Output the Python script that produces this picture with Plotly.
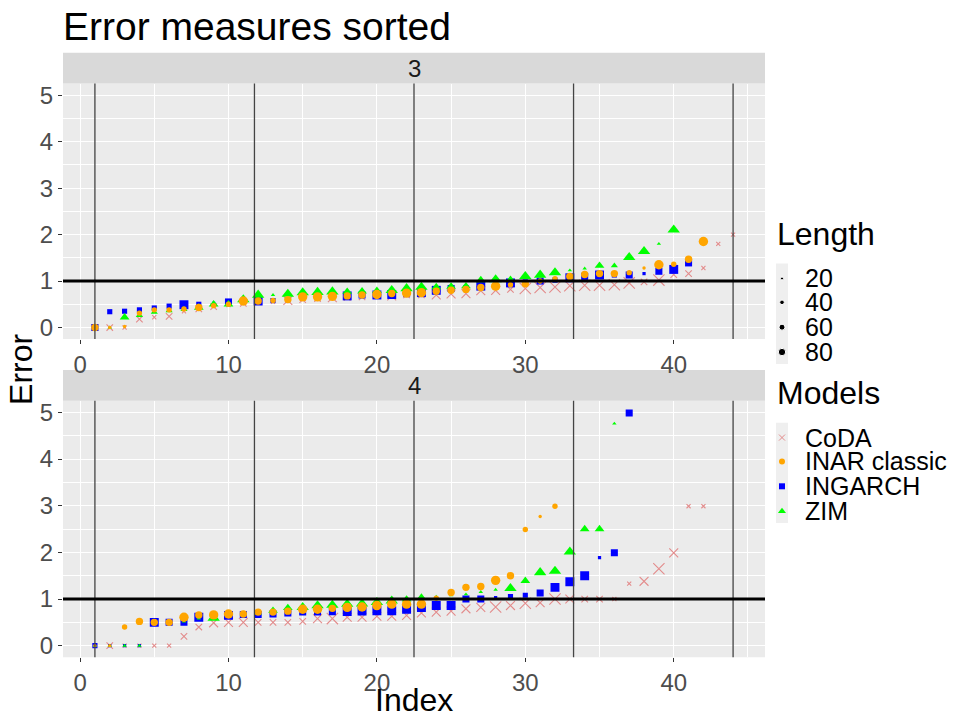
import plotly.graph_objects as go

# ---------------- data ----------------
models = ["CoDA", "INAR classic", "INGARCH", "ZIM"]
length_levels = [20, 40, 60, 80]

# facet "3"
f3_coda = [0, 0, 0, 0.18, 0.22, 0.24, 0.35, 0.40, 0.45, 0.48,
           0.52, 0.55, 0.55, 0.58, 0.60, 0.62, 0.64, 0.65, 0.66, 0.67,
           0.68, 0.70, 0.70, 0.70, 0.72, 0.73, 0.79, 0.80, 0.82, 0.84,
           0.86, 0.87, 0.90, 0.91, 0.91, 0.92, 0.96, 0.98, 1.02, 1.14,
           1.16, 1.28, 1.80, 2.00]
f3_coda_len = [40, 40, 20, 40, 20, 40, 20, 40, 40, 20,
               40, 40, 20, 60, 40, 40, 60, 40, 40, 20,
               60, 40, 40, 60, 60, 60, 60, 60, 40, 80,
               80, 80, 80, 80, 80, 80, 80, 40, 80, 40,
               40, 20, 20, 20]
f3_inar = [0, 0, 0.02, 0.31, 0.38, 0.38, 0.40, 0.43, 0.47, 0.50,
           0.57, 0.57, 0.58, 0.60, 0.66, 0.66, 0.67, 0.68, 0.70, 0.71,
           0.73, 0.74, 0.75, 0.78, 0.80, 0.82, 0.86, 0.89, 0.92, 0.94,
           1.00, 1.05, 1.10, 1.14, 1.16, 1.16, 1.18, 1.28, 1.35, 1.36,
           1.47, 1.85]
f3_inar_len = [60, 20, 20, 40, 40, 40, 40, 60, 40, 40,
               80, 60, 40, 60, 80, 80, 80, 60, 60, 80,
               60, 80, 80, 60, 60, 60, 60, 80, 40, 60,
               40, 40, 60, 60, 60, 60, 40, 20, 80, 40,
               60, 80]
f3_ingarch = [0, 0.34, 0.35, 0.38, 0.42, 0.46, 0.49, 0.50, 0.52, 0.55,
              0.56, 0.57, 0.58, 0.60, 0.63, 0.66, 0.67, 0.68, 0.70, 0.70,
              0.71, 0.73, 0.75, 0.80, 0.84, 0.86, 0.89, 0.92, 0.96, 0.98,
              1.00, 1.02, 1.07, 1.10, 1.13, 1.13, 1.13, 1.16, 1.21, 1.25,
              1.39]
f3_ingarch_len = [60, 40, 40, 40, 40, 40, 80, 40, 20, 60,
                  40, 80, 40, 40, 40, 40, 40, 80, 60, 80,
                  80, 60, 80, 80, 60, 40, 80, 40, 80, 40,
                  60, 40, 80, 60, 80, 40, 60, 20, 60, 80,
                  60]
f3_zim = [0, 0, 0.22, 0.26, 0.33, 0.36, 0.39, 0.43, 0.50, 0.50,
          0.60, 0.70, 0.70, 0.72, 0.75, 0.76, 0.77, 0.77, 0.78, 0.79,
          0.80, 0.84, 0.87, 0.87, 0.88, 0.89, 1.02, 1.03, 1.05, 1.10,
          1.13, 1.18, 1.23, 1.27, 1.33, 1.33, 1.51, 1.64, 1.80, 2.10]
f3_zim_len = [20, 20, 60, 40, 40, 40, 40, 60, 60, 60,
              80, 80, 20, 80, 80, 80, 80, 60, 60, 60,
              80, 80, 80, 60, 60, 60, 60, 80, 40, 80,
              80, 80, 20, 20, 60, 40, 80, 80, 20, 80]

# facet "4"
f4_coda = [0, 0, 0, 0, 0, 0, 0.20, 0.40, 0.49, 0.50,
           0.50, 0.50, 0.50, 0.50, 0.52, 0.58, 0.58, 0.61, 0.61, 0.63,
           0.63, 0.65, 0.70, 0.72, 0.74, 0.79, 0.82, 0.83, 0.86, 0.91,
           0.92, 1.00, 1.00, 1.00, 1.00, 1.00, 1.33, 1.38, 1.65, 1.99,
           2.99, 2.99]
f4_coda_len = [20, 40, 20, 20, 20, 20, 40, 40, 60, 60,
               60, 40, 40, 40, 40, 60, 80, 60, 60, 60,
               60, 60, 60, 60, 60, 60, 60, 80, 60, 80,
               60, 80, 60, 40, 40, 20, 20, 60, 80, 60,
               20, 20]
f4_inar = [0, 0, 0.40, 0.52, 0.50, 0.50, 0.61, 0.66, 0.66, 0.68,
           0.68, 0.72, 0.72, 0.74, 0.78, 0.78, 0.80, 0.82, 0.83, 0.86,
           0.89, 0.89, 0.89, 1.02, 1.14, 1.25, 1.27, 1.40, 1.50, 2.49,
           2.77, 2.99]
f4_inar_len = [20, 20, 40, 60, 60, 60, 80, 60, 80, 80,
               60, 60, 60, 60, 80, 80, 60, 80, 80, 80,
               80, 80, 80, 40, 60, 60, 60, 80, 60, 40,
               20, 40]
f4_ingarch = [0, 0, 0, 0, 0.50, 0.50, 0.50, 0.61, 0.63, 0.65,
              0.67, 0.67, 0.68, 0.70, 0.72, 0.72, 0.73, 0.73, 0.74, 0.75,
              0.75, 0.78, 0.82, 0.86, 0.86, 1.00, 1.00, 1.03, 1.05, 1.08,
              1.13, 1.25, 1.37, 1.50, 1.89, 1.99, 4.99]
f4_ingarch_len = [40, 20, 20, 20, 80, 60, 60, 80, 40, 80,
                  60, 60, 60, 60, 60, 60, 60, 80, 80, 80,
                  80, 80, 80, 80, 80, 60, 60, 20, 40, 40,
                  60, 80, 80, 80, 20, 60, 60]
f4_zim = [0, 0, 0, 0, 0.50, 0.50, 0.52, 0.58, 0.59, 0.65,
          0.68, 0.70, 0.75, 0.81, 0.82, 0.86, 0.87, 0.89, 0.90, 0.93,
          0.96, 0.99, 1.03, 1.05, 1.08, 1.10, 1.15, 1.20, 1.23, 1.39,
          1.57, 1.60, 2.01, 2.50, 2.50, 4.76]
f4_zim_len = [20, 20, 20, 20, 20, 20, 20, 20, 80, 40,
              40, 40, 60, 60, 80, 80, 80, 80, 80, 80,
              80, 60, 60, 20, 20, 20, 20, 20, 80, 60,
              80, 80, 80, 60, 60, 20]

facet_labels = ["3", "4"]
group_breaks = [1, 11.75, 22.5, 33.25, 44]
reference_error = 1
x_ticks = [0, 10, 20, 30, 40]
y_ticks = [0, 1, 2, 3, 4, 5]

# ---------------- styles ----------------
colors = {"CoDA": "#E38B8B", "INAR classic": "#FFA500",
          "INGARCH": "#0000FF", "ZIM": "#00FF00"}
symbols = {"CoDA": "x-thin", "INAR classic": "circle",
           "INGARCH": "square", "ZIM": "triangle-up"}
size_px = {20: 3.4, 40: 5.4, 60: 7.4, 80: 9.4}
sym_scale = {"CoDA": 1.2, "INAR classic": 1.0, "INGARCH": 0.95, "ZIM": 1.15}

data = {
    "3": {"CoDA": (f3_coda, f3_coda_len), "INAR classic": (f3_inar, f3_inar_len),
          "INGARCH": (f3_ingarch, f3_ingarch_len), "ZIM": (f3_zim, f3_zim_len)},
    "4": {"CoDA": (f4_coda, f4_coda_len), "INAR classic": (f4_inar, f4_inar_len),
          "INGARCH": (f4_ingarch, f4_ingarch_len), "ZIM": (f4_zim, f4_zim_len)},
}

FONT = "Liberation Sans, Arial, sans-serif"
W, H = 959, 720
xdom = [63 / W, 765 / W]
ydoms = [[1 - 339 / H, 1 - 82 / H], [1 - 659 / H, 1 - 401 / H]]
strip_h = 31 / H

fig = go.Figure()
draw_order = ["CoDA", "INGARCH", "ZIM", "INAR classic"]
for k, fac in enumerate(facet_labels):
    xa = "x" if k == 0 else "x2"
    ya = "y" if k == 0 else "y2"
    for m in draw_order:
        vals, lens = data[fac][m]
        xs = list(range(1, len(vals) + 1))
        sizes = [size_px[l] * sym_scale[m] for l in lens]
        marker = dict(symbol=symbols[m], size=sizes, color=colors[m], opacity=1,
                      line=dict(width=0))
        if m == "CoDA":
            marker["line"] = dict(width=1.1, color=colors[m])
        fig.add_trace(go.Scatter(x=xs, y=vals, mode="markers", marker=marker,
                                 xaxis=xa, yaxis=ya, showlegend=False,
                                 hoverinfo="skip"))

# ---------------- legend (keys on a small overlay axis in pixel units) ----------------
LEG_X0, LEG_X1, LEG_Y0, LEG_Y1 = 770, 959, 200, 560   # pixel box of the legend area
key_x = 782
text_x = 803
len_title_y = 233
len_rows_y = [278, 302, 327, 352]
mod_title_y = 393
mod_rows_y = [438, 462, 487, 512]
legend_len_px = {20: 3.0, 40: 4.6, 60: 6.0, 80: 7.4}

fig.add_trace(go.Scatter(x=[key_x] * len(length_levels), y=len_rows_y, mode="markers",
                         marker=dict(symbol="circle", color="black", opacity=1,
                                     size=[legend_len_px[l] for l in length_levels]),
                         xaxis="x3", yaxis="y3", showlegend=False, hoverinfo="skip"))
for m, yy in zip(models, mod_rows_y):
    mk = dict(symbol=symbols[m], color=colors[m], size=6 if m != "ZIM" else 7, opacity=1,
              line=dict(width=0))
    if m == "CoDA":
        mk["line"] = dict(width=1, color=colors[m])
    fig.add_trace(go.Scatter(x=[key_x], y=[yy], mode="markers", marker=mk,
                             xaxis="x3", yaxis="y3", showlegend=False, hoverinfo="skip"))

shapes = []
annotations = []
# panel backgrounds
for k in range(2):
    xa = "x" if k == 0 else "x2"
    ya = "y" if k == 0 else "y2"
    shapes.append(dict(type="rect", xref=xa + " domain", yref=ya + " domain",
                       x0=0, x1=1, y0=0, y1=1, fillcolor="#EBEBEB",
                       line=dict(width=0), layer="below"))
# legend key backgrounds
for (ya0, ya1) in [(263, 364), (423, 524)]:
    shapes.append(dict(type="rect", xref="paper", yref="paper",
                       x0=776 / W, x1=788 / W, y0=1 - ya1 / H, y1=1 - ya0 / H,
                       fillcolor="#EFEFEF", line=dict(width=0), layer="below"))
annotations.append(dict(text="Length", xref="paper", yref="paper", x=775 / W, y=1 - len_title_y / H,
                        xanchor="left", yanchor="middle", showarrow=False,
                        font=dict(size=32, color="black", family=FONT)))
annotations.append(dict(text="Models", xref="paper", yref="paper", x=775 / W, y=1 - mod_title_y / H,
                        xanchor="left", yanchor="middle", showarrow=False,
                        font=dict(size=32, color="black", family=FONT)))
for l, yy in zip(length_levels, len_rows_y):
    annotations.append(dict(text=str(l), xref="paper", yref="paper", x=text_x / W, y=1 - yy / H,
                            xanchor="left", yanchor="middle", showarrow=False,
                            font=dict(size=25, color="black", family=FONT)))
for m, yy in zip(models, mod_rows_y):
    annotations.append(dict(text=m, xref="paper", yref="paper", x=text_x / W, y=1 - yy / H,
                            xanchor="left", yanchor="middle", showarrow=False,
                            font=dict(size=25, color="black", family=FONT)))

# strips, group lines and reference line
for k, fac in enumerate(facet_labels):
    xa = "x" if k == 0 else "x2"
    ya = "y" if k == 0 else "y2"
    y0, y1 = ydoms[k]
    shapes.append(dict(type="rect", xref="paper", yref="paper", x0=xdom[0], x1=xdom[1],
                       y0=y1, y1=y1 + strip_h, fillcolor="#D9D9D9", line=dict(width=0),
                       layer="below"))
    annotations.append(dict(text=fac, xref="paper", yref="paper",
                            x=(xdom[0] + xdom[1]) / 2, y=y1 + strip_h / 2,
                            showarrow=False, font=dict(size=24, color="#1A1A1A", family=FONT),
                            xanchor="center", yanchor="middle"))
    for b in group_breaks:
        shapes.append(dict(type="line", xref=xa, yref=ya + " domain", x0=b, x1=b,
                           y0=0, y1=1, line=dict(color="#444444", width=1.3)))
    shapes.append(dict(type="line", xref=xa + " domain", yref=ya, x0=0, x1=1,
                       y0=reference_error, y1=reference_error,
                       line=dict(color="black", width=3)))

annotations += [
    dict(text="Error measures sorted", xref="paper", yref="paper", x=61 / W, y=1 - 1 / H,
         xanchor="left", yanchor="top", showarrow=False,
         font=dict(size=39, color="black", family=FONT)),
    dict(text="Error", xref="paper", yref="paper", x=21 / W, y=1 - 370 / H,
         textangle=-90, xanchor="center", yanchor="middle", showarrow=False,
         font=dict(size=32, color="black", family=FONT)),
    dict(text="Index", xref="paper", yref="paper", x=414 / W, y=1 - 702 / H,
         xanchor="center", yanchor="middle", showarrow=False,
         font=dict(size=32, color="black", family=FONT)),
]

axis_common = dict(
    showgrid=True, gridcolor="white", gridwidth=1.2, zeroline=False, showline=False,
    ticks="outside", ticklen=4, tickwidth=1, tickcolor="#333333",
    tickfont=dict(size=24, color="#4D4D4D", family=FONT),
)
xax = dict(axis_common, range=[-1.15, 46.15], tickvals=x_ticks,
           minor=dict(dtick=5, tick0=0, showgrid=True, gridcolor="white", gridwidth=0.6, ticks=""),
           domain=xdom)
yax = dict(axis_common, range=[-0.25, 5.25], tickvals=y_ticks,
           minor=dict(dtick=0.5, tick0=0, showgrid=True, gridcolor="white", gridwidth=0.6, ticks=""))

fig.update_layout(
    width=W, height=H, margin=dict(l=0, r=0, t=0, b=0),
    paper_bgcolor="white", plot_bgcolor="rgba(0,0,0,0)",
    font=dict(family=FONT),
    xaxis=dict(xax, anchor="y"),
    yaxis=dict(yax, domain=ydoms[0], anchor="x"),
    xaxis2=dict(xax, anchor="y2"),
    yaxis2=dict(yax, domain=ydoms[1], anchor="x2"),
    xaxis3=dict(domain=[LEG_X0 / W, LEG_X1 / W], range=[LEG_X0, LEG_X1], visible=False,
                fixedrange=True, anchor="y3"),
    yaxis3=dict(domain=[1 - LEG_Y1 / H, 1 - LEG_Y0 / H], range=[LEG_Y1, LEG_Y0], visible=False,
                fixedrange=True, anchor="x3"),
    shapes=shapes, annotations=annotations,
    showlegend=False,
)

fig.write_html("out.html")
